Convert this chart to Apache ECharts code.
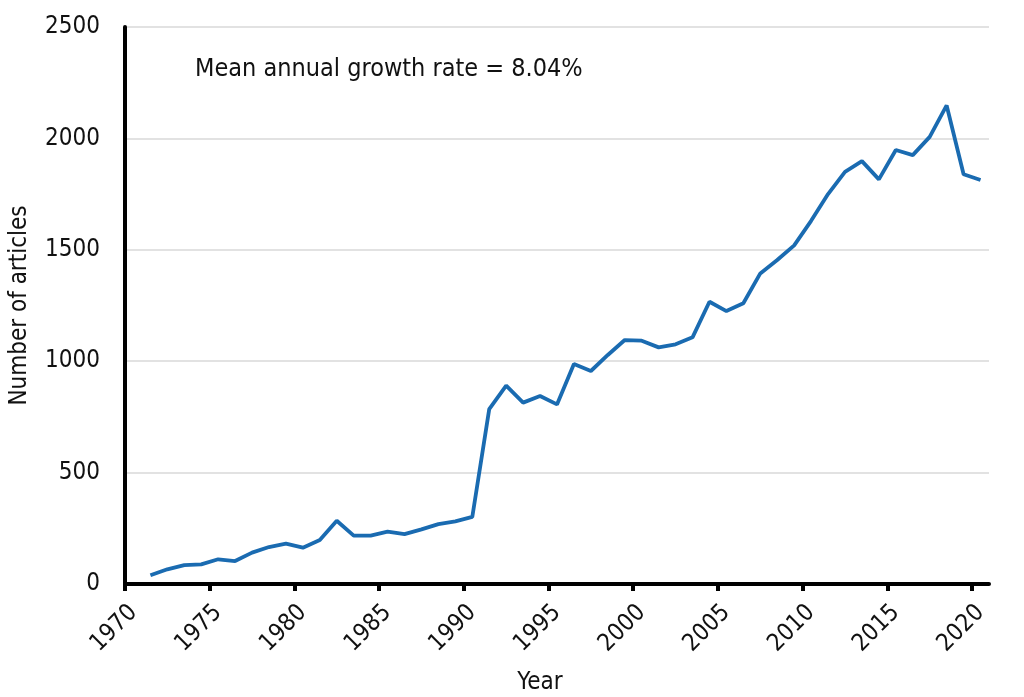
<!DOCTYPE html>
<html>
<head>
<meta charset="utf-8">
<script src="https://cdn.jsdelivr.net/npm/echarts@6/dist/echarts.min.js"></script>
<style>
html,body{margin:0;padding:0;background:#fff;}
#chart{width:1024px;height:697px;}
</style>
</head>
<body>
<div id="chart"></div>
<script>
const years = [];
for (let y = 1970; y <= 2020; y++) years.push(String(y));
const articles = [null,
  39, 66, 85, 88, 111, 103, 141, 166, 181, 163,
  197, 284, 217, 217, 235, 224, 245, 269, 281, 301,
  785, 890, 814, 844, 806, 987, 956, 1028, 1095, 1092,
  1062, 1076, 1107, 1267, 1225, 1260, 1394, 1454, 1520, 1630,
  1750, 1850, 1898, 1816, 1948, 1925, 2007, 2148, 1839, 1813];
const yTicks = [0, 500, 1000, 1500, 2000, 2500];
const xTickYears = [1970, 1975, 1980, 1985, 1990, 1995, 2000, 2005, 2010, 2015, 2020];
const annotation = 'Mean annual growth rate = 8.04%';

const FONT = '"DejaVu Sans Condensed", "DejaVu Sans", sans-serif';
const chart = echarts.init(document.getElementById('chart'));
chart.setOption({
  animation: false,
  backgroundColor: '#fff',
  title: {
    text: annotation,
    left: 190, top: 52,
    textStyle: {fontFamily: FONT, fontSize: 25, fontWeight: 'normal', color: '#111'}
  },
  grid: {left: 125, right: 35, top: 27, bottom: 113, containLabel: false, outerBoundsMode: 'none'},
  xAxis: [{
    type: 'category',
    data: years,
    boundaryGap: true,
    name: 'Year',
    nameLocation: 'middle',
    nameGap: 87,
    nameTextStyle: {fontFamily: FONT, fontSize: 24, color: '#111', padding: [0, 34, 0, 0]},
    axisLine: {show: true, lineStyle: {color: '#000', width: 4}},
    axisTick: {show: false},
    axisLabel: {interval: 4, rotate: 45, margin: 25, fontFamily: FONT, fontSize: 24, color: '#111'},
    splitLine: {show: false}
  }, {
    type: 'value',
    position: 'bottom',
    min: 1970, max: 2021,
    axisLine: {show: false},
    axisTick: {show: true, customValues: xTickYears, length: 7, lineStyle: {color: '#000', width: 4}},
    axisLabel: {show: false},
    splitLine: {show: false}
  }],
  yAxis: {
    type: 'value',
    min: yTicks[0], max: yTicks[yTicks.length - 1], interval: 500,
    name: 'Number of articles',
    nameLocation: 'middle',
    nameGap: 93,
    nameTextStyle: {fontFamily: FONT, fontSize: 24, color: '#111'},
    axisLine: {show: true, lineStyle: {color: '#000', width: 4}},
    axisTick: {show: false},
    axisLabel: {margin: 25, fontFamily: FONT, fontSize: 24, color: '#111', formatter: v => String(v)},
    splitLine: {show: true, lineStyle: {color: '#d9d9d9', width: 1.5}}
  },
  series: [{
    type: 'line',
    xAxisIndex: 0,
    data: articles,
    showSymbol: false,
    connectNulls: false,
    lineStyle: {color: '#1a6bb1', width: 3.8},
    itemStyle: {color: '#1a6bb1'}
  }]
});
</script>
</body>
</html>
